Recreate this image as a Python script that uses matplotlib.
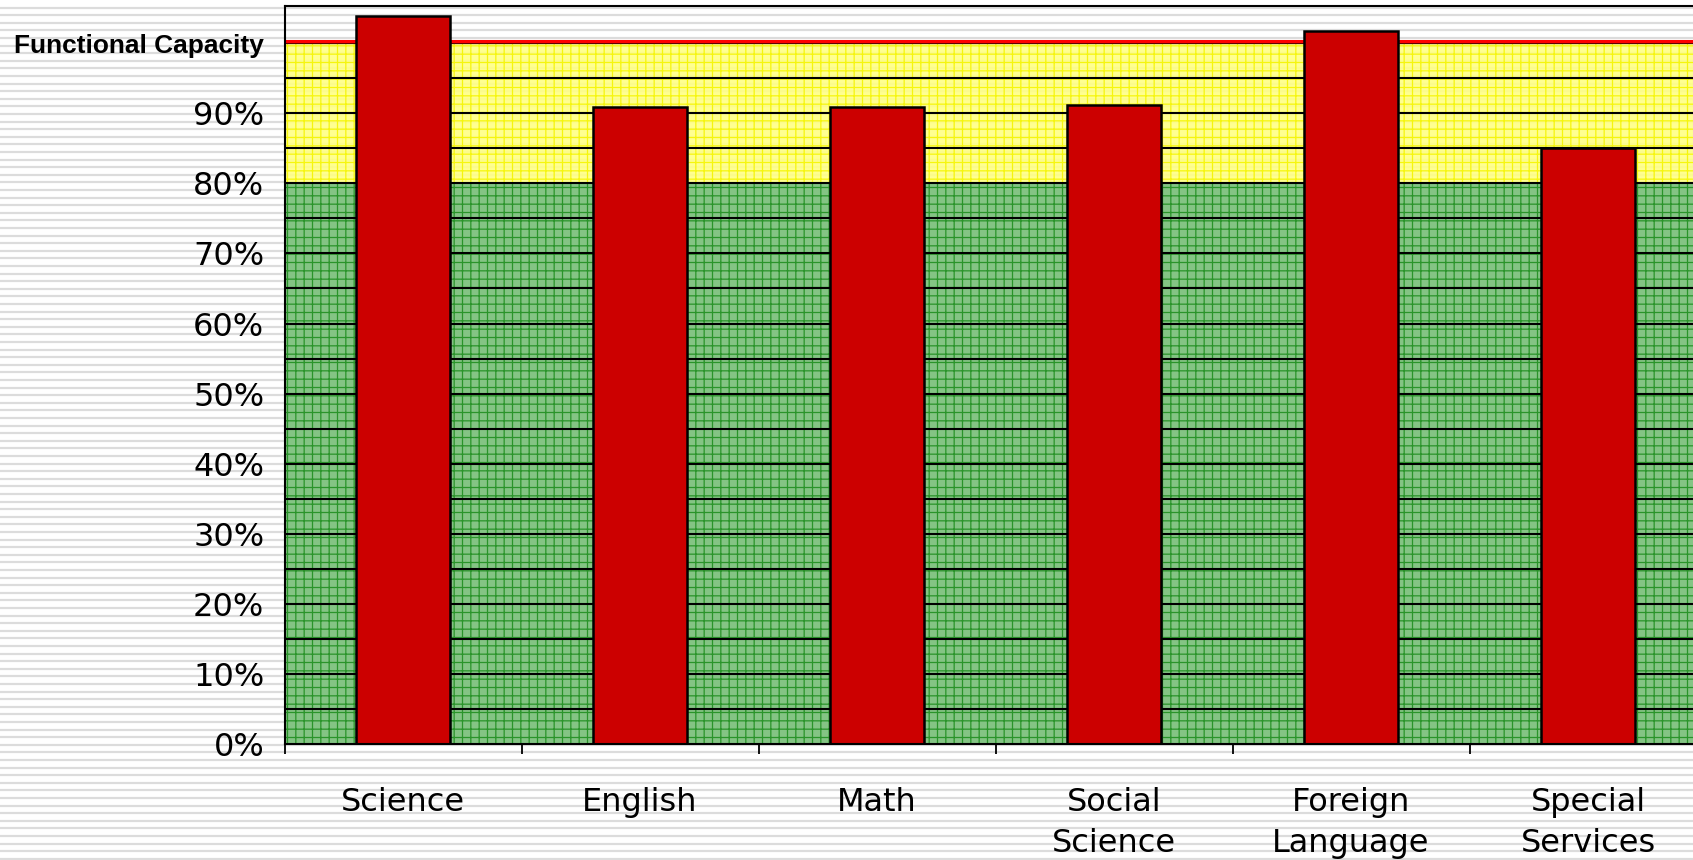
import numpy as np
import matplotlib
matplotlib.use('Agg')
import matplotlib.pyplot as plt
from matplotlib import font_manager
from matplotlib.ticker import FixedLocator

# data
kategoriler = ['Science', 'English', 'Math', 'Social\nScience', 'Foreign\nLanguage', 'Special\nServices']
degerler = [103.8, 90.9, 90.9, 91.15, 101.75, 85.0]
kapasite = 100
yesil_ust = 80
ytick_degerleri = [0, 10, 20, 30, 40, 50, 60, 70, 80, 90, 100]
ytick_etiketleri = ['0%', '10%', '20%', '30%', '40%', '50%', '60%', '70%', '80%', '90%', 'Functional Capacity']

W, H = 1693, 860
fig = plt.figure(figsize=(W / 100, H / 100), dpi=100, facecolor='white')

# striped background over the whole figure
arka = fig.add_axes([0, 0, 1, 1], zorder=-5)
arka.set_xlim(0, W)
arka.set_ylim(H, 0)
arka.axis('off')
for y in np.arange(782.7 % 7.6, H, 7.6):
    arka.axhline(y, color='#dcdcdc', lw=1.6)

# plot area (runs past the right edge like the original)
sol, alt, ust = 284.5, 744.3, 6.0
ax = fig.add_axes([sol / W, (H - alt) / H, 237 * 6 / W, (alt - ust) / H])
ax.set_facecolor('none')

x = np.arange(len(kategoriler))
ax.set_xlim(-0.5, len(kategoriler) - 0.5)
ax.set_ylim(0, kapasite * (alt - ust) / (alt - 43.0))

plt.rcParams['hatch.linewidth'] = 0.9
ax.axhspan(0, yesil_ust, facecolor='#84c484', edgecolor='#2a942a', hatch='++', lw=0, zorder=0.1)
ax.axhspan(yesil_ust, kapasite, facecolor='#ffff85', edgecolor='#f5f500', hatch='++', lw=0, alpha=0.9, zorder=0.1)

for g in np.arange(5, kapasite, 5):
    ax.axhline(g, color='black', lw=1.5, zorder=0.5)
ax.axhline(kapasite, color='#5a0000', lw=1.6, zorder=0.6)
ax.axhline(kapasite + 0.3, color='#ff0000', lw=2.2, zorder=0.7)

ax.bar(x, degerler, width=0.4, color='#cc0000', edgecolor='black', linewidth=1.8, zorder=2)

# axes / ticks
for s in ['left', 'bottom', 'top']:
    ax.spines[s].set_color('black')
    ax.spines[s].set_linewidth(1.5)
ax.spines['right'].set_visible(False)

ax.set_yticks(ytick_degerleri)
ax.set_yticklabels(ytick_etiketleri, fontsize=23, family='DejaVu Sans')
ax.tick_params(axis='y', length=0, pad=14.5)

isimler = {f.name for f in font_manager.fontManager.ttflist}
if 'Liberation Sans Narrow' in isimler:
    fc_font = dict(family='Liberation Sans Narrow', weight='bold', size=22)
else:
    fc_font = dict(family='Liberation Sans', weight='bold', size=18.9)
son = ax.get_yticklabels()[-1]
son.set_fontfamily(fc_font['family'])
son.set_fontweight(fc_font['weight'])
son.set_fontsize(fc_font['size'])

ax.xaxis.set_major_locator(FixedLocator(np.arange(-0.5, len(kategoriler), 1.0)))
ax.xaxis.set_minor_locator(FixedLocator(x))
ax.set_xticklabels([''] * len(ax.get_xticks()))
ax.set_xticklabels(kategoriler, minor=True, fontsize=23, family='DejaVu Sans', linespacing=1.4)
ax.tick_params(axis='x', which='major', length=7, width=1.3, direction='out', color='black')
ax.tick_params(axis='x', which='minor', length=0, pad=31)

fig.savefig('out.png', dpi=100, facecolor='white')
